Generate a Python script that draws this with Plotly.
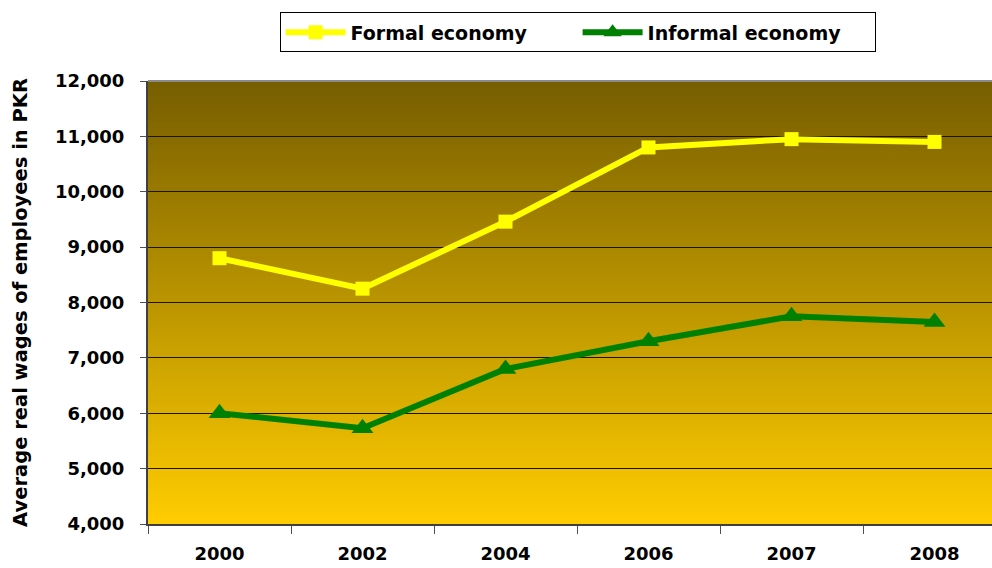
import plotly.graph_objects as go

years = ["2000", "2002", "2004", "2006", "2007", "2008"]
formal = [8800, 8250, 9460, 10800, 10950, 10900]
informal = [6000, 5730, 6800, 7300, 7750, 7650]
y_ticks = [4000, 5000, 6000, 7000, 8000, 9000, 10000, 11000, 12000]

FONT = "DejaVu Sans, Arial, sans-serif"

fig = go.Figure()

fig.add_trace(go.Scatter(
    x=years, y=formal, name="Formal economy", mode="lines+markers",
    line=dict(color="#ffff00", width=6),
    marker=dict(symbol="square", size=14, color="#ffff00"),
))
fig.add_trace(go.Scatter(
    x=years, y=informal, name="Informal economy", mode="lines+markers",
    line=dict(color="#008000", width=6),
    marker=dict(symbol="triangle-up", size=19, color="#008000"),
))

# vertical gradient background of the plot area, drawn as thin strips
top_rgb = (119, 94, 0)
bot_rgb = (255, 204, 0)
n = 120
shapes = []
for i in range(n):
    t = i / (n - 1)
    c = tuple(round(b + (a - b) * t) for a, b in zip(top_rgb, bot_rgb))
    shapes.append(dict(
        type="rect", xref="x domain", yref="y domain",
        x0=0, x1=1, y0=i / n, y1=(i + 1) / n + 0.002,
        fillcolor=f"rgb{c}", line=dict(width=0), layer="below",
    ))
# light grey frame line along the top of the plot area
shapes.append(dict(
    type="line", xref="x domain", yref="y domain", x0=0, x1=1, y0=1, y1=1,
    line=dict(color="#8c8c8c", width=2), layer="above",
))

fig.update_layout(
    width=992, height=568,
    margin=dict(l=148, r=0, t=81, b=44),
    paper_bgcolor="white",
    plot_bgcolor="#ffcc00",
    shapes=shapes,
    font=dict(family=FONT, color="black", size=18),
    showlegend=True,
    legend=dict(
        orientation="h", x=0.509, xanchor="center", y=1.155, yanchor="top",
        bordercolor="black", borderwidth=1, bgcolor="white",
        font=dict(family=FONT, size=19, weight="bold"),
        traceorder="normal", entrywidth=222, entrywidthmode="pixels",
        itemwidth=60,
    ),
    xaxis=dict(
        type="category", range=[-0.5, 5.402],
        tickson="boundaries", ticks="outside", ticklen=8, tickcolor="#505050",
        showline=True, linecolor="#404040", linewidth=2,
        showgrid=False, zeroline=False,
        tickfont=dict(family=FONT, size=18, weight="bold"),
        ticklabelstandoff=12,
    ),
    yaxis=dict(
        range=[4000, 12000], tickvals=y_ticks, tickformat=",",
        ticks="outside", ticklen=6, tickcolor="#505050",
        showline=True, linecolor="#404040", linewidth=2,
        showgrid=True, gridcolor="#1a1400", gridwidth=1, zeroline=False,
        tickfont=dict(family=FONT, size=18, weight="bold"),
        ticklabelstandoff=12,
        title=dict(text="Average real wages of employees in PKR",
                   font=dict(family=FONT, size=19.5, weight="bold"), standoff=22),
    ),
)

fig.write_html("out.html")
